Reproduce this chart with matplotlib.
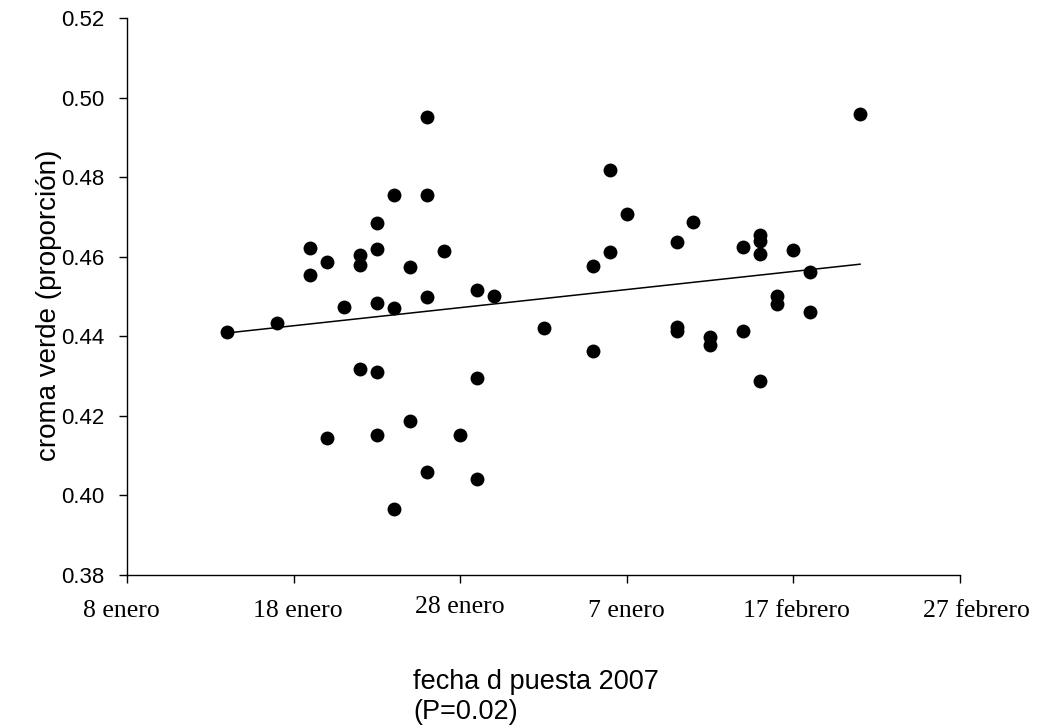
import matplotlib
matplotlib.use("Agg")
import matplotlib.pyplot as plt
import matplotlib.transforms as mtransforms

# Laying date in days after 8 January 2007, and green chroma (proportion)
dias = [6, 9, 11, 11, 12, 12, 13, 14, 14, 14, 15, 15, 15, 15, 15,
        16, 16, 16, 17, 17, 18, 18, 18, 18, 19, 20, 21, 21, 21, 22,
        25, 28, 28, 29, 29, 30, 33, 33, 33, 34, 35, 35, 37, 37,
        38, 38, 38, 38, 39, 39, 40, 41, 41, 44]
croma = [0.4412, 0.4433, 0.4623, 0.4554, 0.4587, 0.4144, 0.4473, 0.4604, 0.4578, 0.4319,
         0.4685, 0.4620, 0.4483, 0.4311, 0.4152,
         0.4756, 0.4471, 0.3966, 0.4573, 0.4188, 0.4951, 0.4756, 0.4499, 0.4060,
         0.4615, 0.4152, 0.4516, 0.4296, 0.4041, 0.4501,
         0.4420, 0.4364, 0.4577, 0.4613, 0.4818, 0.4708, 0.4636, 0.4423, 0.4413,
         0.4686, 0.4397, 0.4377, 0.4624, 0.4413,
         0.4654, 0.4640, 0.4607, 0.4288, 0.4501, 0.4480, 0.4618, 0.4561, 0.4462, 0.4959]

# Linear fit: croma = FIT_INTERCEPT + FIT_SLOPE * dias
FIT_INTERCEPT = 0.4381
FIT_SLOPE = 0.000455

x_ticks = [0, 10, 20, 30, 40, 50]
x_ticklabels = ["8 enero", "18 enero", "28 enero", "7 enero", "17 febrero", "27 febrero"]
y_ticks = [0.38, 0.40, 0.42, 0.44, 0.46, 0.48, 0.50, 0.52]

sans = ["Liberation Sans", "DejaVu Sans"]
serif = ["Liberation Serif", "DejaVu Serif"]

fig = plt.figure(figsize=(10.4, 7.27), dpi=100)
ax = fig.add_axes([127 / 1040, 1 - 575 / 727, (960 - 127) / 1040, (575 - 18) / 727])

ax.plot(dias, croma, linestyle="none", marker="o", markersize=10,
        color="black", markeredgewidth=0)
x0, x1 = min(dias), max(dias)
ax.plot([x0, x1], [FIT_INTERCEPT + FIT_SLOPE * x0, FIT_INTERCEPT + FIT_SLOPE * x1],
        color="black", linewidth=1.1)

ax.set_xlim(0, 50)
ax.set_ylim(0.38, 0.52)
ax.set_xticks(x_ticks)
ax.set_xticklabels(x_ticklabels, family=serif, fontsize=18.5)
ax.set_yticks(y_ticks)
ax.set_yticklabels([f"{v:.2f}" for v in y_ticks], family=sans, fontsize=16)

for side in ("top", "right"):
    ax.spines[side].set_visible(False)
for side in ("left", "bottom"):
    ax.spines[side].set_linewidth(1.0)
ax.tick_params(axis="both", direction="out", length=6, width=1.0, colors="black")
ax.tick_params(axis="x", pad=12)
ax.tick_params(axis="y", pad=10)

# Small nudges of individual date labels (points: dx, dy)
label_nudges = {0: (-4, 0), 1: (3, 0), 2: (0, 3), 4: (2, 0), 5: (12, 0)}
for i, (dx, dy) in label_nudges.items():
    lbl = ax.get_xticklabels()[i]
    lbl.set_transform(lbl.get_transform() +
                      mtransforms.ScaledTranslation(dx / 72, dy / 72, fig.dpi_scale_trans))

ax.set_ylabel("croma verde (proporción)", family=sans, fontsize=20)
ax.yaxis.set_label_coords((62 - 127) / 833, 0.485)

fig.text(413 / 1040, 1 - 682 / 727, "fecha d puesta 2007", family=sans,
         fontsize=19.5, ha="left", va="center")
fig.text(413 / 1040, 1 - 712 / 727, "(P=0.02)", family=sans,
         fontsize=19.5, ha="left", va="center")

fig.savefig("out.png", dpi=100, facecolor="white")
